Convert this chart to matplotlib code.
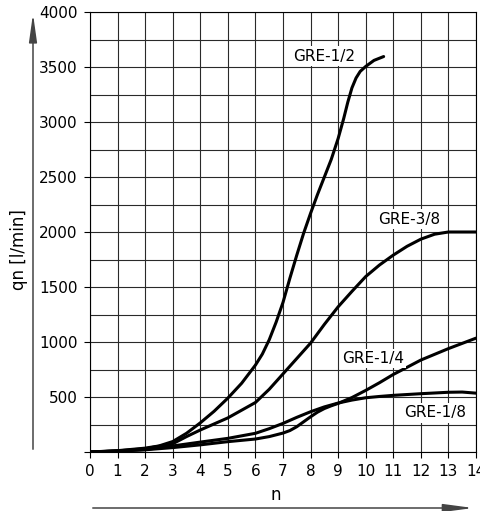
import matplotlib.pyplot as plt
import numpy as np

# curves (n, qn [l/min])
n_12 = [0, 1, 2, 2.5, 3, 3.5, 4, 4.5, 5, 5.5, 6, 6.25, 6.5, 6.75, 7, 7.25, 7.5, 7.75, 8, 8.25, 8.5, 8.75,
        9, 9.2, 9.35, 9.5, 9.65, 9.8, 10, 10.3, 10.65]
q_12 = [0, 12, 35, 55, 95, 170, 265, 370, 490, 625, 790, 890, 1020, 1180, 1360, 1580, 1790, 1990, 2170, 2340, 2500, 2660,
        2850, 3030, 3180, 3310, 3400, 3460, 3505, 3560, 3595]

n_38 = [0, 1, 2, 3, 3.5, 4, 4.5, 5, 5.5, 6, 6.5, 7, 7.5, 8, 8.5, 9, 9.5, 10, 10.5, 11, 11.5, 12, 12.5, 13, 14]
q_38 = [0, 10, 30, 75, 140, 200, 255, 310, 380, 450, 570, 710, 850, 990, 1160, 1320, 1460, 1595, 1700, 1790, 1870, 1935, 1980, 2000, 2000]

n_14 = [0, 1, 2, 3, 4, 5, 6, 6.5, 7, 7.25, 7.5, 7.75, 8, 8.25, 8.5, 8.75, 9, 9.5, 10, 10.5, 11, 11.5, 12, 13, 14]
q_14 = [0, 8, 20, 40, 65, 94, 118, 140, 172, 195, 230, 275, 320, 362, 395, 420, 442, 495, 560, 630, 705, 770, 836, 940, 1035]

n_18 = [0, 1, 2, 3, 4, 5, 6, 6.5, 7, 7.5, 8, 8.5, 9, 9.5, 10, 10.5, 11, 12, 13, 13.5, 14]
q_18 = [0, 8, 22, 55, 90, 124, 170, 212, 260, 315, 366, 410, 445, 472, 493, 505, 515, 530, 543, 545, 535]

curve_names = ['GRE-1/2', 'GRE-3/8', 'GRE-1/4', 'GRE-1/8']
name_pos = [(8.49, 3600), (11.57, 2118), (10.27, 852), (12.5, 355)]

x_ticks = list(range(0, 15))
y_ticks = list(range(0, 4001, 500))

fig = plt.figure(figsize=(4.8, 5.11), dpi=100)
ax = fig.add_axes([90/480, 1-452/511, 386/480, 440/511])

for xs, ys in [(n_12, q_12), (n_38, q_38), (n_14, q_14), (n_18, q_18)]:
    ax.plot(xs, ys, color='black', lw=2.2, solid_capstyle='round', solid_joinstyle='round', zorder=3)

for name, (x, y) in zip(curve_names, name_pos):
    ax.text(x, y, name, ha='center', va='center', fontsize=11, zorder=4,
            bbox=dict(facecolor='white', edgecolor='none', pad=1.5))

ax.set_xlim(0, 14)
ax.set_ylim(0, 4000)
ax.set_xticks(x_ticks)
ax.set_yticks(y_ticks)
ax.set_yticklabels(['' if v == 0 else str(v) for v in y_ticks])
ax.set_yticks(np.arange(250, 4000, 500), minor=True)
ax.set_axisbelow(True)
ax.grid(which='both', color='#2a2a2a', lw=0.8)
ax.tick_params(which='major', length=4, width=0.8, labelsize=11, pad=5)
ax.tick_params(which='minor', length=0)
for sp in ax.spines.values():
    sp.set_linewidth(0.8)

# axis arrows
ax.annotate('', xy=(33/480, 1-11/511), xytext=(33/480, 1-452/511),
            xycoords='figure fraction', textcoords='figure fraction',
            arrowprops=dict(arrowstyle='-|>,head_length=17,head_width=2.4',
                            mutation_scale=1, color='#444', lw=1.1))
ax.annotate('', xy=(476/480, 1-508/511), xytext=(90/480, 1-508/511),
            xycoords='figure fraction', textcoords='figure fraction',
            arrowprops=dict(arrowstyle='-|>,head_length=18,head_width=2.4',
                            mutation_scale=1, color='#444', lw=1.1))

fig.text(19/480, 1-250/511, 'qn [l/min]', rotation=90, ha='center', va='center', fontsize=12)
fig.text(276/480, 1-495/511, 'n', ha='center', va='center', fontsize=12)

fig.savefig('out.png', dpi=100)
